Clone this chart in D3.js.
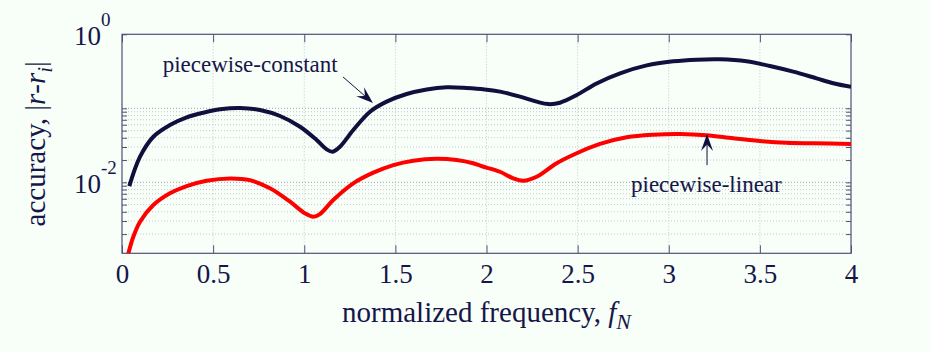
<!DOCTYPE html>
<html>
<head>
<meta charset="utf-8">
<script src="https://cdn.jsdelivr.net/npm/d3@7"></script>
<style>
  body { margin: 0; background: #f8fff8; }
  svg { display: block; font-family: "Liberation Serif", "Times New Roman", serif; }
  .grid line { stroke: #c2c9d0; stroke-dasharray: 1,2; stroke-width: 1; }
  .grid line.major { stroke: #9aa2b8; }
  .axis path { display: none; }
  .axis line { stroke: #505078; stroke-width: 1; }
</style>
</head>
<body>
<svg id="chart"></svg>
<script>
// piecewise-constant curve
const freqConst = [0.040, 0.099, 0.172, 0.263, 0.355, 0.446, 0.538, 0.648, 0.757, 0.867, 0.977,
  1.068, 1.123, 1.156, 1.196, 1.269, 1.361, 1.452, 1.562, 1.672, 1.782, 1.891, 1.990,
  2.074, 2.184, 2.275, 2.339, 2.403, 2.495, 2.604, 2.733, 2.879, 3.025, 3.153, 3.281,
  3.427, 3.555, 3.683, 3.811, 3.903, 4.0];
const accConst = [0.0089, 0.0222, 0.0413, 0.0594, 0.0755, 0.0873, 0.0969, 0.101, 0.0948, 0.0787, 0.0564,
  0.0373, 0.0279, 0.0259, 0.0303, 0.0509, 0.090, 0.123, 0.156, 0.180, 0.192, 0.188, 0.180,
  0.168, 0.144, 0.123, 0.114, 0.119, 0.151, 0.217, 0.297, 0.380, 0.431, 0.454, 0.459,
  0.431, 0.373, 0.313, 0.254, 0.218, 0.195];

// piecewise-linear curve
const freqLinear = [0.033, 0.062, 0.099, 0.172, 0.263, 0.355, 0.464, 0.593, 0.702, 0.812, 0.922,
  1.004, 1.050, 1.086, 1.159, 1.269, 1.379, 1.489, 1.598, 1.726, 1.836, 1.927, 1.975,
  2.074, 2.147, 2.202, 2.275, 2.385, 2.495, 2.623, 2.769, 2.915, 3.062, 3.208, 3.354,
  3.500, 3.646, 3.793, 4.0];
const accLinear = [0.00105, 0.00184, 0.00294, 0.00493, 0.0071, 0.0089, 0.0105, 0.0113, 0.0107, 0.0083, 0.00547,
  0.00381, 0.00343, 0.00373, 0.00577, 0.00969, 0.0135, 0.0171, 0.0196, 0.0208, 0.0200, 0.0181, 0.0165,
  0.0139, 0.0113, 0.0105, 0.0119, 0.0181, 0.0247, 0.033, 0.0406, 0.044, 0.045, 0.0432, 0.0393,
  0.0362, 0.0343, 0.0337, 0.033];

const xTicks = [0, 0.5, 1, 1.5, 2, 2.5, 3, 3.5, 4];
const xTickLabels = ['0', '0.5', '1', '1.5', '2', '2.5', '3', '3.5', '4'];
const yLabelExps = [0, -2];
const yGridDecades = [-3, -2]; // decades that carry minor grid lines

// text annotations with arrows, in data units
const annotations = [
  { label: 'piecewise-constant', textX: 0.223, textY: 0.312, fromX: 1.213, fromY: 0.265, toX: 1.377, toY: 0.118 },
  { label: 'piecewise-linear', textX: 2.793, textY: 0.0075, fromX: 3.21, fromY: 0.0171, toX: 3.21, toY: 0.045 }
];

class AccuracyChart {
    constructor(_config) {
        this.config = {
            parentElement: _config.parentElement,
            containerWidth: _config.containerWidth || 930,
            containerHeight: _config.containerHeight || 352,
            margin: _config.margin || { top: 34.3, right: 79, bottom: 98.7, left: 122 }
        }
        this.initVis();
    }

    initVis() {
        let vis = this;

        vis.width = vis.config.containerWidth - vis.config.margin.left - vis.config.margin.right;
        vis.height = vis.config.containerHeight - vis.config.margin.top - vis.config.margin.bottom;

        vis.xScale = d3.scaleLinear().domain([0, 4]).range([0, vis.width]);
        vis.yScale = d3.scaleLog().domain([1.1e-3, 1]).range([vis.height, 0]);

        vis.svg = d3.select(vis.config.parentElement)
            .attr('width', vis.config.containerWidth)
            .attr('height', vis.config.containerHeight);

        vis.svg.append('rect')
            .attr('width', vis.config.containerWidth)
            .attr('height', vis.config.containerHeight)
            .attr('fill', '#f8fff8');

        vis.chart = vis.svg.append('g')
            .attr('transform', `translate(${vis.config.margin.left},${vis.config.margin.top})`);

        vis.chart.append('clipPath').attr('id', 'plot-clip')
            .append('rect').attr('width', vis.width).attr('height', vis.height);

        // minor + major values for the log grid
        vis.yGridVals = [];
        yGridDecades.forEach(k => {
            for (let m = 1; m <= 9; m++) {
                const v = m * Math.pow(10, k);
                if (v >= 1.1e-3) vis.yGridVals.push(v);
            }
        });
        vis.yGridVals.push(0.1);

        vis.renderVis();
    }

    renderVis() {
        let vis = this;
        const navy = '#10103e';
        const textCol = '#16164a';
        const serif = '"Liberation Serif", "Times New Roman", serif';

        // grid
        const grid = vis.chart.append('g').attr('class', 'grid');
        grid.selectAll('.hline')
            .data(vis.yGridVals)
            .join('line')
            .attr('class', d => Math.abs(Math.log10(d) - Math.round(Math.log10(d))) < 1e-9 ? 'hline major' : 'hline')
            .attr('x1', 0).attr('x2', vis.width)
            .attr('y1', d => vis.yScale(d)).attr('y2', d => vis.yScale(d));
        grid.selectAll('.vline')
            .data(xTicks.slice(1, -1))
            .join('line')
            .attr('class', 'vline')
            .attr('y1', 0).attr('y2', vis.height)
            .attr('x1', d => vis.xScale(d)).attr('x2', d => vis.xScale(d));

        // axes, ticks pointing inward like the original
        const xAxis = d3.axisBottom(vis.xScale)
            .tickValues(xTicks)
            .tickFormat((d, i) => xTickLabels[i])
            .tickSize(-8)
            .tickPadding(11);
        const xAxisG = vis.chart.append('g')
            .attr('class', 'axis x-axis')
            .attr('transform', `translate(0,${vis.height})`)
            .call(xAxis);
        xAxisG.attr('font-family', null).attr('font-size', null);
        xAxisG.selectAll('text')
            .style('font-family', serif)
            .style('font-size', '27px')
            .attr('fill', textCol);

        vis.chart.append('g')
            .attr('class', 'axis')
            .call(d3.axisTop(vis.xScale).tickValues(xTicks).tickFormat('').tickSize(-8));

        const yTickVals = vis.yGridVals.concat([1]);
        vis.chart.append('g')
            .attr('class', 'axis y-axis')
            .call(d3.axisLeft(vis.yScale).tickValues(yTickVals).tickFormat('').tickSize(-5));
        vis.chart.append('g')
            .attr('class', 'axis')
            .attr('transform', `translate(${vis.width},0)`)
            .call(d3.axisRight(vis.yScale).tickValues(yTickVals).tickFormat('').tickSize(-5));

        // y labels as 10^k
        const yLab = vis.chart.selectAll('.ylab')
            .data(yLabelExps)
            .join('text')
            .attr('class', 'ylab')
            .attr('x', -48)
            .attr('y', d => vis.yScale(Math.pow(10, d)) + 10.5)
            .attr('fill', textCol)
            .style('font-family', serif)
            .attr('font-size', '27px');
        yLab.append('tspan').text('10');
        yLab.append('tspan').attr('dy', -19).attr('font-size', '19px').text(d => d === 0 ? '0' : '-' + Math.abs(d));

        // box
        vis.chart.append('rect')
            .attr('width', vis.width).attr('height', vis.height)
            .attr('fill', 'none').attr('stroke', '#505078').attr('stroke-width', 1.2);

        // curves
        const line = d3.line()
            .x(d => vis.xScale(d[0]))
            .y(d => vis.yScale(d[1]))
            .curve(d3.curveCatmullRom.alpha(0.5));

        const plot = vis.chart.append('g').attr('clip-path', 'url(#plot-clip)');
        plot.append('path')
            .datum(d3.zip(freqLinear, accLinear))
            .attr('d', line)
            .attr('fill', 'none').attr('stroke', '#ff0000').attr('stroke-width', 4);
        plot.append('path')
            .datum(d3.zip(freqConst, accConst))
            .attr('d', line)
            .attr('fill', 'none').attr('stroke', navy).attr('stroke-width', 4);

        // annotations
        annotations.forEach(a => {
            const x0 = vis.xScale(a.fromX), y0 = vis.yScale(a.fromY);
            const x1 = vis.xScale(a.toX), y1 = vis.yScale(a.toY);
            const ang = Math.atan2(y1 - y0, x1 - x0) * 180 / Math.PI;
            const L = 17, W = 12;
            vis.chart.append('line')
                .attr('x1', x0).attr('y1', y0)
                .attr('x2', x1 - L * 0.6 * Math.cos(ang * Math.PI / 180))
                .attr('y2', y1 - L * 0.6 * Math.sin(ang * Math.PI / 180))
                .attr('stroke', navy).attr('stroke-width', 1);
            vis.chart.append('path')
                .attr('d', `M0,0L${-L},${-W / 2}L${-L * 0.62},0L${-L},${W / 2}Z`)
                .attr('transform', `translate(${x1},${y1}) rotate(${ang})`)
                .attr('fill', navy);
            vis.chart.append('text')
                .attr('x', vis.xScale(a.textX))
                .attr('y', vis.yScale(a.textY))
                .attr('font-size', '23px')
                .attr('fill', textCol)
                .text(a.label);
        });

        // axis titles
        const xt = vis.chart.append('text')
            .attr('x', vis.width / 2)
            .attr('y', vis.height + 68.5)
            .attr('text-anchor', 'middle')
            .attr('font-size', '29px')
            .attr('fill', textCol);
        xt.append('tspan').text('normalized frequency, ');
        xt.append('tspan').attr('font-style', 'italic').text('f');
        xt.append('tspan').attr('font-style', 'italic').attr('font-size', '22px').attr('dy', 7).text('N');

        const yt = vis.svg.append('text')
            .attr('transform', `translate(45,${vis.config.margin.top + vis.height / 2}) rotate(-90)`)
            .attr('text-anchor', 'middle')
            .attr('font-size', '29px')
            .attr('fill', textCol);
        yt.append('tspan').text('accuracy, |');
        yt.append('tspan').attr('font-style', 'italic').text('r');
        yt.append('tspan').text('-');
        yt.append('tspan').attr('font-style', 'italic').text('r');
        yt.append('tspan').attr('font-style', 'italic').attr('font-size', '21px').attr('dy', 7).text('i');
        yt.append('tspan').attr('dy', -7).text('|');
    }
}

new AccuracyChart({ parentElement: '#chart' });
</script>
</body>
</html>
